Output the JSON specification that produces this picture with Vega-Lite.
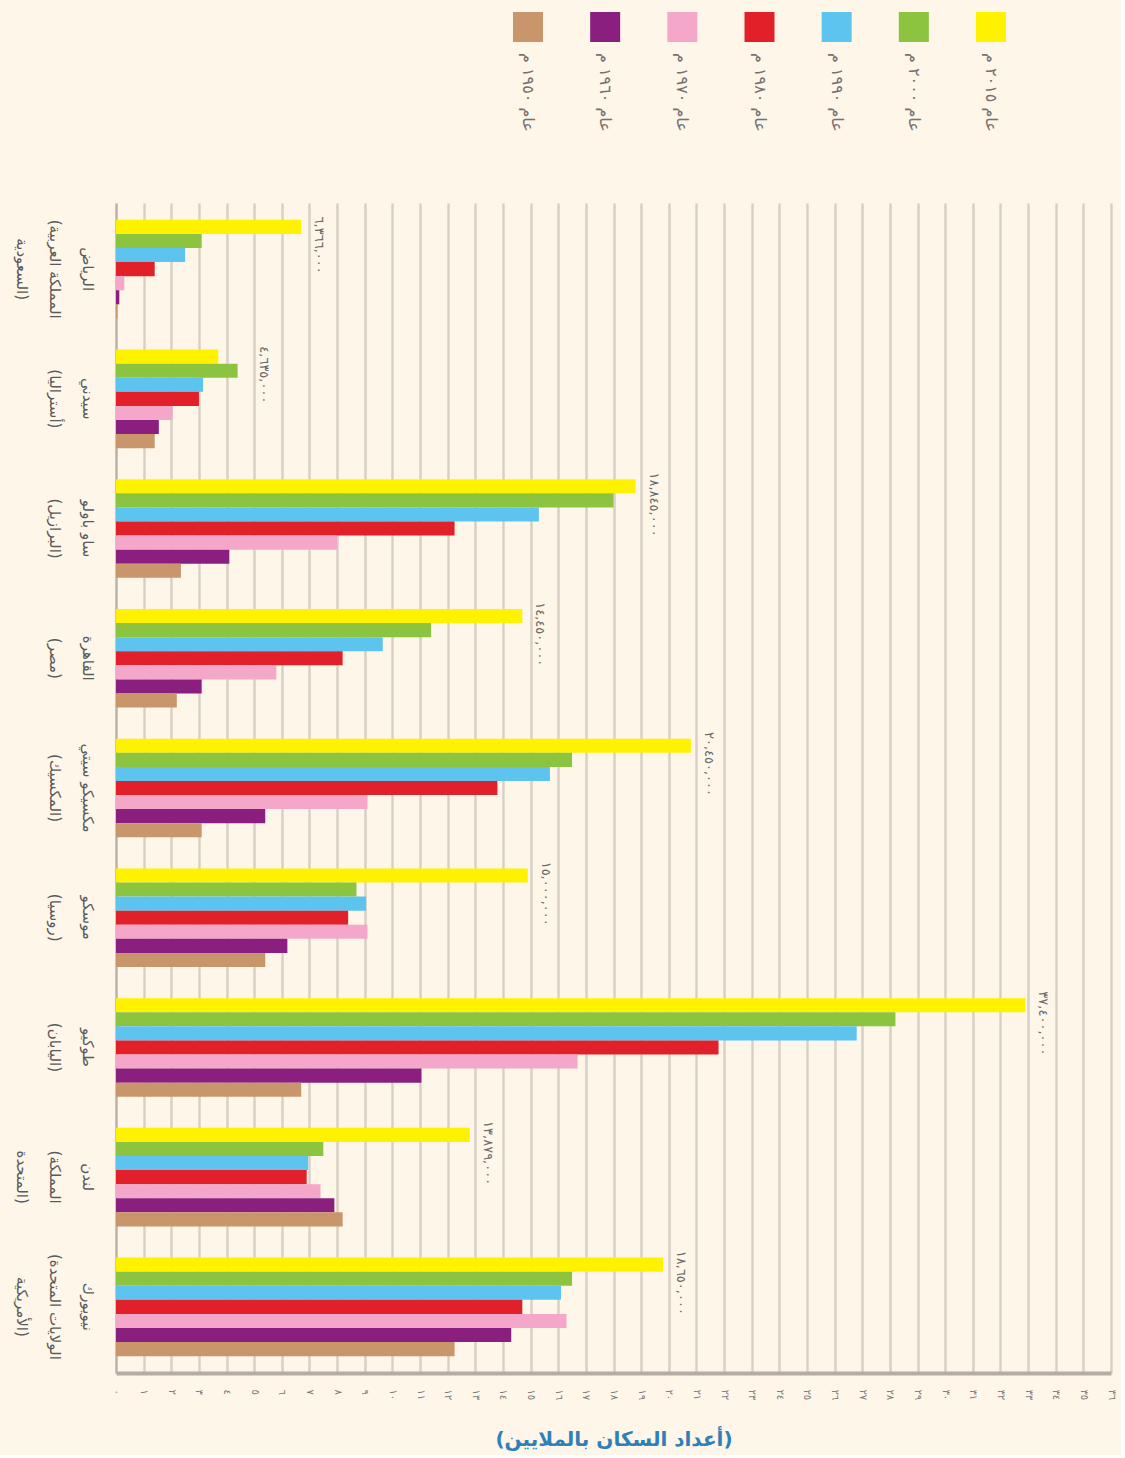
{
  "$schema": "https://vega.github.io/schema/vega-lite/v6.json",
  "background": "#fdf6e9",
  "padding": {"left": 12, "top": 12, "right": 5, "bottom": 5},
  "bounds": "flush",
  "spacing": 161,
  "config": {"view": {"stroke": null}, "font": "DejaVu Sans"},
  "datasets": {
    "legend": [
      {"year": "1950", "label": "عام ١٩٥٠ م"},
      {"year": "1960", "label": "عام ١٩٦٠ م"},
      {"year": "1970", "label": "عام ١٩٧٠ م"},
      {"year": "1980", "label": "عام ١٩٨٠ م"},
      {"year": "1990", "label": "عام ١٩٩٠ م"},
      {"year": "2000", "label": "عام ٢٠٠٠ م"},
      {"year": "2015", "label": "عام ٢٠١٥ م"}
    ],
    "labels": [
      {"city": "الرياض|(المملكة العربية|السعودية)", "value": 6.7, "label": "٦,٣٦٦,٠٠٠"},
      {"city": "سيدني|(أستراليا)", "value": 4.7, "label": "٤,٦٣٥,٠٠٠"},
      {"city": "ساو باولو|(البرازيل)", "value": 18.8, "label": "١٨,٨٤٥,٠٠٠"},
      {"city": "القاهرة|(مصر)", "value": 14.7, "label": "١٤,٤٥٠,٠٠٠"},
      {"city": "مكسيكو سيتي|(المكسيك)", "value": 20.8, "label": "٢٠,٤٥٠,٠٠٠"},
      {"city": "موسكو|(روسيا)", "value": 14.9, "label": "١٥,٠٠٠,٠٠٠"},
      {"city": "طوكيو|(اليابان)", "value": 32.9, "label": "٣٧,٤٠٠,٠٠٠"},
      {"city": "لندن|(المملكة|المتحدة)", "value": 12.8, "label": "١٣,٨٧٩,٠٠٠"},
      {"city": "نيويورك|(الولايات المتحدة|الأمريكية)", "value": 19.8, "label": "١٨,٦٥٠,٠٠٠"}
    ],
    "bars": [
      {"city": "الرياض|(المملكة العربية|السعودية)", "year": "2015", "value": 6.7},
      {"city": "الرياض|(المملكة العربية|السعودية)", "year": "2000", "value": 3.1},
      {"city": "الرياض|(المملكة العربية|السعودية)", "year": "1990", "value": 2.5},
      {"city": "الرياض|(المملكة العربية|السعودية)", "year": "1980", "value": 1.4},
      {"city": "الرياض|(المملكة العربية|السعودية)", "year": "1970", "value": 0.3},
      {"city": "الرياض|(المملكة العربية|السعودية)", "year": "1960", "value": 0.12},
      {"city": "الرياض|(المملكة العربية|السعودية)", "year": "1950", "value": 0.05},
      {"city": "سيدني|(أستراليا)", "year": "2015", "value": 3.7},
      {"city": "سيدني|(أستراليا)", "year": "2000", "value": 4.4},
      {"city": "سيدني|(أستراليا)", "year": "1990", "value": 3.15},
      {"city": "سيدني|(أستراليا)", "year": "1980", "value": 3.0},
      {"city": "سيدني|(أستراليا)", "year": "1970", "value": 2.05},
      {"city": "سيدني|(أستراليا)", "year": "1960", "value": 1.55},
      {"city": "سيدني|(أستراليا)", "year": "1950", "value": 1.4},
      {"city": "ساو باولو|(البرازيل)", "year": "2015", "value": 18.8},
      {"city": "ساو باولو|(البرازيل)", "year": "2000", "value": 18.0},
      {"city": "ساو باولو|(البرازيل)", "year": "1990", "value": 15.3},
      {"city": "ساو باولو|(البرازيل)", "year": "1980", "value": 12.25},
      {"city": "ساو باولو|(البرازيل)", "year": "1970", "value": 8.0},
      {"city": "ساو باولو|(البرازيل)", "year": "1960", "value": 4.1},
      {"city": "ساو باولو|(البرازيل)", "year": "1950", "value": 2.35},
      {"city": "القاهرة|(مصر)", "year": "2015", "value": 14.7},
      {"city": "القاهرة|(مصر)", "year": "2000", "value": 11.4},
      {"city": "القاهرة|(مصر)", "year": "1990", "value": 9.65},
      {"city": "القاهرة|(مصر)", "year": "1980", "value": 8.2},
      {"city": "القاهرة|(مصر)", "year": "1970", "value": 5.8},
      {"city": "القاهرة|(مصر)", "year": "1960", "value": 3.1},
      {"city": "القاهرة|(مصر)", "year": "1950", "value": 2.2},
      {"city": "مكسيكو سيتي|(المكسيك)", "year": "2015", "value": 20.8},
      {"city": "مكسيكو سيتي|(المكسيك)", "year": "2000", "value": 16.5},
      {"city": "مكسيكو سيتي|(المكسيك)", "year": "1990", "value": 15.7},
      {"city": "مكسيكو سيتي|(المكسيك)", "year": "1980", "value": 13.8},
      {"city": "مكسيكو سيتي|(المكسيك)", "year": "1970", "value": 9.1},
      {"city": "مكسيكو سيتي|(المكسيك)", "year": "1960", "value": 5.4},
      {"city": "مكسيكو سيتي|(المكسيك)", "year": "1950", "value": 3.1},
      {"city": "موسكو|(روسيا)", "year": "2015", "value": 14.9},
      {"city": "موسكو|(روسيا)", "year": "2000", "value": 8.7},
      {"city": "موسكو|(روسيا)", "year": "1990", "value": 9.05},
      {"city": "موسكو|(روسيا)", "year": "1980", "value": 8.4},
      {"city": "موسكو|(روسيا)", "year": "1970", "value": 9.1},
      {"city": "موسكو|(روسيا)", "year": "1960", "value": 6.2},
      {"city": "موسكو|(روسيا)", "year": "1950", "value": 5.4},
      {"city": "طوكيو|(اليابان)", "year": "2015", "value": 32.9},
      {"city": "طوكيو|(اليابان)", "year": "2000", "value": 28.2},
      {"city": "طوكيو|(اليابان)", "year": "1990", "value": 26.8},
      {"city": "طوكيو|(اليابان)", "year": "1980", "value": 21.8},
      {"city": "طوكيو|(اليابان)", "year": "1970", "value": 16.7},
      {"city": "طوكيو|(اليابان)", "year": "1960", "value": 11.05},
      {"city": "طوكيو|(اليابان)", "year": "1950", "value": 6.7},
      {"city": "لندن|(المملكة|المتحدة)", "year": "2015", "value": 12.8},
      {"city": "لندن|(المملكة|المتحدة)", "year": "2000", "value": 7.5},
      {"city": "لندن|(المملكة|المتحدة)", "year": "1990", "value": 6.95},
      {"city": "لندن|(المملكة|المتحدة)", "year": "1980", "value": 6.9},
      {"city": "لندن|(المملكة|المتحدة)", "year": "1970", "value": 7.4},
      {"city": "لندن|(المملكة|المتحدة)", "year": "1960", "value": 7.9},
      {"city": "لندن|(المملكة|المتحدة)", "year": "1950", "value": 8.2},
      {"city": "نيويورك|(الولايات المتحدة|الأمريكية)", "year": "2015", "value": 19.8},
      {"city": "نيويورك|(الولايات المتحدة|الأمريكية)", "year": "2000", "value": 16.5},
      {"city": "نيويورك|(الولايات المتحدة|الأمريكية)", "year": "1990", "value": 16.1},
      {"city": "نيويورك|(الولايات المتحدة|الأمريكية)", "year": "1980", "value": 14.7},
      {"city": "نيويورك|(الولايات المتحدة|الأمريكية)", "year": "1970", "value": 16.3},
      {"city": "نيويورك|(الولايات المتحدة|الأمريكية)", "year": "1960", "value": 14.3},
      {"city": "نيويورك|(الولايات المتحدة|الأمريكية)", "year": "1950", "value": 12.25}
    ]
  },
  "vconcat": [
    {
      "width": 995,
      "height": 30,
      "data": {"name": "legend"},
      "encoding": {
        "x": {"field": "year", "type": "nominal", "sort": "ascending", "scale": {"type": "point", "padding": 0, "range": [412, 875]}, "axis": null}
      },
      "layer": [
        {
          "mark": {"type": "square", "size": 900, "opacity": 1, "filled": true},
          "encoding": {
            "color": {"field": "year", "type": "nominal", "legend": null,
              "scale": {"domain": ["1950", "1960", "1970", "1980", "1990", "2000", "2015"],
                        "range": ["#c9956b", "#8a1f80", "#f4a7c9", "#e2202a", "#5cc4ef", "#8cc43f", "#fff200"]}}
          }
        },
        {
          "mark": {"type": "text", "angle": 90, "align": "left", "baseline": "middle", "dx": 26, "fontSize": 16, "color": "#767070", "font": "DejaVu Sans"},
          "encoding": {"text": {"field": "label"}}
        }
      ]
    },
    {
      "width": 995,
      "height": 1170,
      "layer": [
        {
          "data": {"name": "bars"},
          "mark": {"type": "bar"},
          "encoding": {
            "y": {"field": "city", "type": "nominal",
              "sort": ["الرياض|(المملكة العربية|السعودية)", "سيدني|(أستراليا)", "ساو باولو|(البرازيل)", "القاهرة|(مصر)", "مكسيكو سيتي|(المكسيك)", "موسكو|(روسيا)", "طوكيو|(اليابان)", "لندن|(المملكة|المتحدة)", "نيويورك|(الولايات المتحدة|الأمريكية)"],
              "scale": {"paddingInner": 0.24, "paddingOuter": 0.13},
              "axis": {"title": null, "labelAngle": 90, "labelAlign": "center", "labelBaseline": "top", "labelExpr": "split(datum.label, '|')", "labelFontSize": 15, "labelLineHeight": 33, "labelPadding": 22, "labelColor": "#5a5a5a", "labelLimit": 400, "labelOverlap": false, "ticks": false, "grid": false, "domainColor": "#b8b0a8", "domainWidth": 2, "labelFont": "DejaVu Sans"}},
            "x": {"field": "value", "type": "quantitative", "scale": {"domain": [0, 36], "nice": false},
              "axis": {"values": [0,1,2,3,4,5,6,7,8,9,10,11,12,13,14,15,16,17,18,19,20,21,22,23,24,25,26,27,28,29,30,31,32,33,34,35,36],
                "tickCount": 40,
                "labelExpr": "['٠','١','٢','٣','٤','٥','٦','٧','٨','٩','١٠','١١','١٢','١٣','١٤','١٥','١٦','١٧','١٨','١٩','٢٠','٢١','٢٢','٢٣','٢٤','٢٥','٢٦','٢٧','٢٨','٢٩','٣٠','٣١','٣٢','٣٣','٣٤','٣٥','٣٦'][datum.value]",
                "labelAngle": 90, "labelAlign": "left", "labelBaseline": "middle", "labelFontSize": 10, "labelColor": "#7a7a7a", "labelPadding": 16, "labelFlush": false, "labelOverlap": false,
                "ticks": false, "grid": true, "gridColor": "#d9d0c5", "gridWidth": 2.5, "domainColor": "#b5ada5", "domainWidth": 4,
                "title": "(أعداد السكان بالملايين)", "titleColor": "#2f7fb8", "titleFontSize": 20, "titleFont": "DejaVu Sans", "titleFontWeight": "bold", "titlePadding": 30}},
            "yOffset": {"field": "year", "type": "nominal", "sort": "descending"},
            "color": {"field": "year", "type": "nominal", "legend": null,
              "scale": {"domain": ["1950", "1960", "1970", "1980", "1990", "2000", "2015"],
                        "range": ["#c9956b", "#8a1f80", "#f4a7c9", "#e2202a", "#5cc4ef", "#8cc43f", "#fff200"]}}
          }
        },
        {
          "data": {"name": "labels"},
          "mark": {"type": "text", "angle": 90, "align": "center", "baseline": "middle", "dx": -24, "dy": -18, "fontSize": 13, "color": "#6b6b6b", "font": "DejaVu Sans"},
          "encoding": {
            "y": {"field": "city", "type": "nominal", "sort": ["الرياض|(المملكة العربية|السعودية)", "سيدني|(أستراليا)", "ساو باولو|(البرازيل)", "القاهرة|(مصر)", "مكسيكو سيتي|(المكسيك)", "موسكو|(روسيا)", "طوكيو|(اليابان)", "لندن|(المملكة|المتحدة)", "نيويورك|(الولايات المتحدة|الأمريكية)"]},
            "x": {"field": "value", "type": "quantitative"},
            "text": {"field": "label"}
          }
        }
      ]
    }
  ]
}
